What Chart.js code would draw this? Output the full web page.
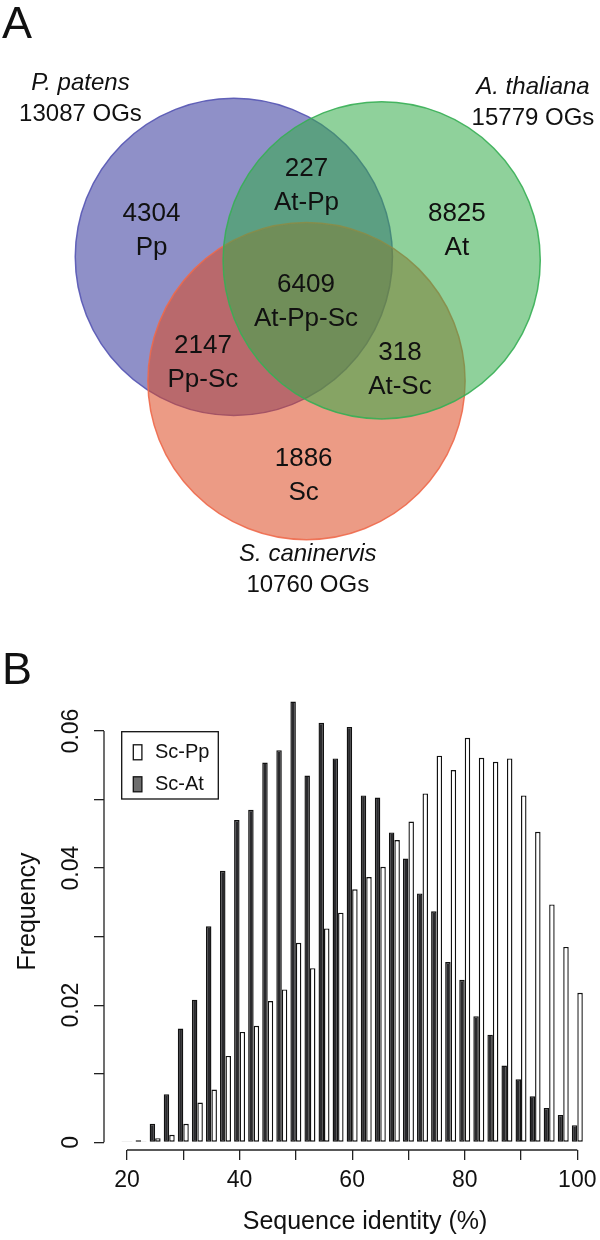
<!DOCTYPE html>
<html lang="en">
<head>
<meta charset="UTF-8">
<title>Orthologous groups and sequence identity</title>
<script src="https://cdn.jsdelivr.net/npm/chart.js"></script>
<style>
  html, body { margin: 0; padding: 0; background: #fff; overflow: hidden; }
  body { width: 600px; height: 1240px; position: relative; font-family: "Liberation Sans", Arial, sans-serif; }
  #vennBox { position: absolute; left: 0; top: 0; width: 600px; height: 620px; }
  /* wider than the page on purpose: the figure is cropped on the right */
  #histBox { position: absolute; left: 0; top: 640px; width: 650px; height: 600px; }
  .panel-letter { position: absolute; left: 2px; font-size: 45px; line-height: 1; color: #111; }
</style>
</head>
<body>
<div id="vennBox"><canvas id="vennChart"></canvas></div>
<div id="histBox"><canvas id="histChart"></canvas></div>
<div class="panel-letter" style="top:0">A</div>
<div class="panel-letter" style="top:646px">B</div>

<script>
// ---- Panel A data: orthologous groups (OGs) ----
const species = ['P. patens', 'A. thaliana', 'S. caninervis'];
const speciesTotals = [13087, 15779, 10760];
const regionNames = ['Pp', 'At-Pp', 'At', 'At-Pp-Sc', 'Pp-Sc', 'At-Sc', 'Sc'];
const regionCounts = [4304, 227, 8825, 6409, 2147, 318, 1886];

// ---- Panel B data: frequency per 2.5% identity bin ----
const identityBins = [20, 22.5, 25, 27.5, 30, 32.5, 35, 37.5, 40, 42.5, 45, 47.5, 50, 52.5, 55, 57.5,
  60, 62.5, 65, 67.5, 70, 72.5, 75, 77.5, 80, 82.5, 85, 87.5, 90, 92.5, 95, 97.5, 100];
const scAtFreq = [0.0001, 0.0003, 0.0027, 0.0070, 0.0166, 0.0208, 0.0315, 0.0396, 0.0470, 0.0485, 0.0554,
  0.0572, 0.0643, 0.0535, 0.0612, 0.0560, 0.0606, 0.0506, 0.0503, 0.0452, 0.0414, 0.0363, 0.0337,
  0.0263, 0.0237, 0.0184, 0.0157, 0.0112, 0.0092, 0.0067, 0.0050, 0.0040, 0.0025];
const scPpFreq = [0.0001, 0.0001, 0.0006, 0.0011, 0.0027, 0.0058, 0.0077, 0.0126, 0.0161, 0.0170, 0.0206,
  0.0223, 0.0291, 0.0254, 0.0312, 0.0335, 0.0369, 0.0387, 0.0402, 0.0441, 0.0468, 0.0509, 0.0564,
  0.0543, 0.0590, 0.0561, 0.0555, 0.0560, 0.0506, 0.0453, 0.0347, 0.0285, 0.0218];
const xTickValues = [20, 30, 40, 50, 60, 70, 80, 90, 100];
const xTickLabels = ['20', '', '40', '', '60', '', '80', '', '100'];
const yTickValues = [0, 0.01, 0.02, 0.03, 0.04, 0.05, 0.06];
const yTickLabels = ['0', '', '0.02', '', '0.04', '', '0.06'];

// ---- Venn layout (units of one circle radius) ----
const setCx = [-0.458, 0.474, 0];
const setCy = [0.272, 0.250, -0.511];
const drawOrder = [0, 2, 1]; // Pp at the bottom, At on top
const setFill = ['rgba(51,53,155,0.55)', 'rgba(51,171,73,0.55)', 'rgba(220,73,33,0.55)'];
const setStroke = ['rgba(85,85,180,0.9)', 'rgba(55,175,85,0.9)', 'rgba(238,105,75,0.9)'];
const titleAt = [[-1.425, 1.266], [1.428, 1.245], [0.008, -1.700]];
const regionAt = [[-0.977, 0.436], [0, 0.721], [0.948, 0.436], [-0.003, -0.013],
  [-0.653, -0.397], [0.589, -0.438], [-0.018, -1.110]];

const FONT = '"Liberation Sans", Arial, sans-serif';
Chart.defaults.font.family = FONT;
Chart.defaults.color = '#111';

const vennText = {
  id: 'vennText',
  afterDatasetsDraw(chart) {
    const { ctx, scales: { x, y } } = chart;
    ctx.save();
    ctx.fillStyle = '#111';
    ctx.textAlign = 'center';
    ctx.textBaseline = 'middle';
    ctx.font = '26px ' + FONT;
    regionNames.forEach((name, i) => {
      const px = x.getPixelForValue(regionAt[i][0]);
      const py = y.getPixelForValue(regionAt[i][1]);
      ctx.fillText(String(regionCounts[i]), px, py - 17);
      ctx.fillText(name, px, py + 17);
    });
    species.forEach((name, i) => {
      const px = x.getPixelForValue(titleAt[i][0]);
      const py = y.getPixelForValue(titleAt[i][1]);
      ctx.font = 'italic 24px ' + FONT;
      ctx.fillText(name, px, py - 15.5);
      ctx.font = '24px ' + FONT;
      ctx.fillText(speciesTotals[i] + ' OGs', px, py + 15.5);
    });
    ctx.restore();
  }
};

new Chart(document.getElementById('vennChart'), {
  type: 'scatter',
  data: {
    datasets: [{
      label: 'sets',
      data: drawOrder.map(i => ({ x: setCx[i], y: setCy[i], r: 1 })),
      pointRadius: c => Math.abs(c.chart.scales.x.getPixelForValue(c.raw.r) - c.chart.scales.x.getPixelForValue(0)),
      pointBackgroundColor: drawOrder.map(i => setFill[i]),
      pointBorderColor: drawOrder.map(i => setStroke[i]),
      pointBorderWidth: 1.5
    }]
  },
  options: {
    responsive: true,
    maintainAspectRatio: false,
    animation: false,
    events: [],
    layout: { padding: 0 },
    scales: {
      x: { type: 'linear', min: -1.9325, max: 1.8506, display: false },
      y: { type: 'linear', min: -2.0177, max: 1.8916, display: false }
    },
    plugins: { legend: { display: false }, tooltip: { enabled: false } }
  },
  plugins: [vennText]
});

// R-style axis lines that stop at the first and last tick
const rAxes = {
  id: 'rAxes',
  afterDraw(chart) {
    const { ctx, chartArea, scales: { x, y } } = chart;
    ctx.save();
    ctx.strokeStyle = '#222';
    ctx.lineWidth = 1.3;
    ctx.beginPath();
    ctx.moveTo(x.getPixelForValue(xTickValues[0]), chartArea.bottom);
    ctx.lineTo(x.getPixelForValue(xTickValues[xTickValues.length - 1]), chartArea.bottom);
    ctx.moveTo(chartArea.left, y.getPixelForValue(yTickValues[0]));
    ctx.lineTo(chartArea.left, y.getPixelForValue(yTickValues[yTickValues.length - 1]));
    ctx.stroke();
    ctx.restore();
  }
};

// boxed legend in the top-left corner of the plot
const boxLegend = {
  id: 'boxLegend',
  afterDatasetsDraw(chart) {
    const { ctx, chartArea, scales: { y } } = chart;
    const left = chartArea.left + 17.7;
    const top = y.getPixelForValue(0.06) + 0.7;
    ctx.save();
    ctx.lineWidth = 1.3;
    ctx.strokeStyle = '#111';
    ctx.fillStyle = '#fff';
    ctx.fillRect(left, top, 96.6, 67.3);
    ctx.strokeRect(left, top, 96.6, 67.3);
    const entries = [chart.data.datasets[1], chart.data.datasets[0]];
    entries.forEach((ds, i) => {
      const cy = top + 20.6 + i * 32;
      ctx.fillStyle = ds.legendFill;
      ctx.fillRect(left + 11.6, cy - 7.5, 8.6, 15);
      ctx.strokeRect(left + 11.6, cy - 7.5, 8.6, 15);
      ctx.fillStyle = '#111';
      ctx.font = '20px ' + FONT;
      ctx.textAlign = 'left';
      ctx.textBaseline = 'middle';
      ctx.fillText(ds.label, left + 33.3, cy);
    });
    ctx.restore();
  }
};

new Chart(document.getElementById('histChart'), {
  type: 'bar',
  data: {
    datasets: [
      {
        label: 'Sc-At',
        data: identityBins.map((b, i) => ({ x: b, y: scAtFreq[i] })),
        backgroundColor: '#2a2a2d',
        legendFill: '#6e6e6e',
        borderColor: '#111',
        borderWidth: 1.4,
        borderSkipped: false
      },
      {
        label: 'Sc-Pp',
        data: identityBins.map((b, i) => ({ x: b, y: scPpFreq[i] })),
        backgroundColor: '#ffffff',
        legendFill: '#ffffff',
        borderColor: '#111',
        borderWidth: 1.4,
        borderSkipped: false
      }
    ]
  },
  options: {
    responsive: true,
    maintainAspectRatio: false,
    animation: false,
    events: [],
    layout: { padding: { top: 33, right: 24, left: 0, bottom: 0 } },
    datasets: { bar: { categoryPercentage: 0.78, barPercentage: 1 } },
    scales: {
      x: {
        type: 'linear',
        min: 15.914,
        max: 108.65,
        offset: false,
        afterBuildTicks: s => { s.ticks = xTickValues.map(v => ({ value: v })); },
        afterFit: s => { s.height = 90; },
        ticks: {
          autoSkip: false,
          maxRotation: 0,
          padding: 7,
          font: { size: 23 },
          callback: (v, i) => xTickLabels[i]
        },
        grid: { offset: false, drawOnChartArea: false, drawTicks: true, tickLength: 10, color: '#222', lineWidth: 1.3 },
        border: { display: false },
        title: { display: true, text: 'Sequence identity (%)', font: { size: 25 }, padding: { top: 0, bottom: 3 } }
      },
      y: {
        type: 'linear',
        min: -0.001123,
        max: 0.06846,
        afterBuildTicks: s => { s.ticks = yTickValues.map(v => ({ value: v })); },
        afterFit: s => { s.width = 104; },
        ticks: {
          minRotation: 90,
          maxRotation: 90,
          crossAlign: 'center',
          padding: 0,
          font: { size: 23 },
          callback: (v, i) => yTickLabels[i]
        },
        grid: { drawOnChartArea: false, drawTicks: true, tickLength: 10, color: '#222', lineWidth: 1.3 },
        border: { display: false },
        title: { display: true, text: 'Frequency', font: { size: 25 }, padding: { top: 13, bottom: 0 } }
      }
    },
    plugins: { legend: { display: false }, tooltip: { enabled: false } }
  },
  plugins: [rAxes, boxLegend]
});
</script>
</body>
</html>
